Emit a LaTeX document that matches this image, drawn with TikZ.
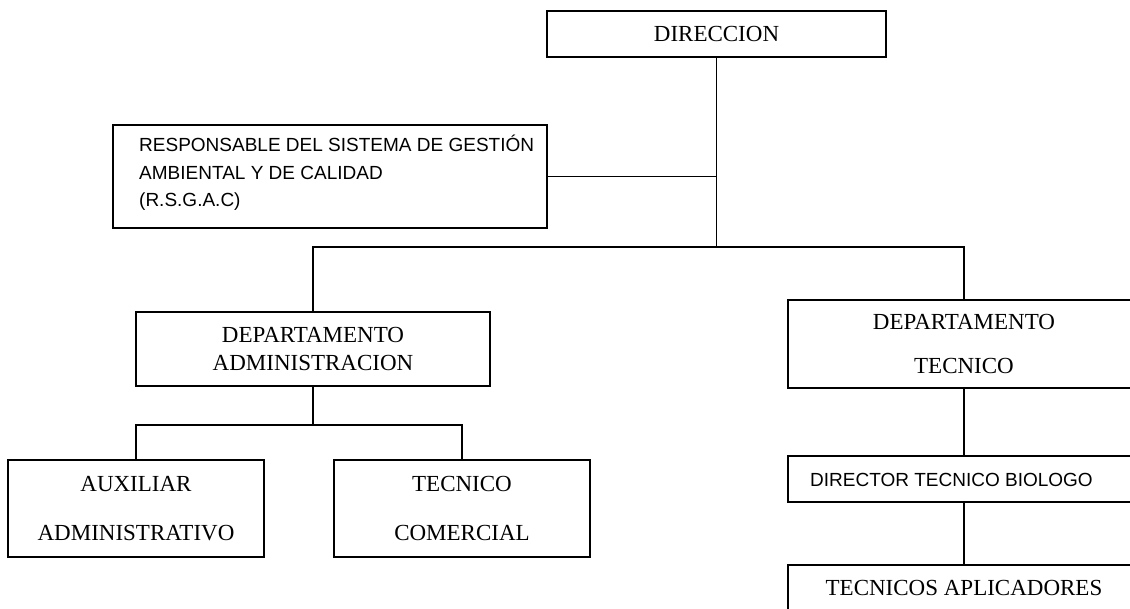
\documentclass[tikz,border=0pt]{standalone}
\usepackage{fontspec}
\setmainfont{Liberation Serif}
\newfontfamily\arialf{Liberation Sans}
\begin{document}
\begin{tikzpicture}[x=1pt,y=-1pt,
  box/.style={draw, line width=1.6pt, inner sep=0pt, align=center, font=\fontsize{23}{28}\selectfont},
  sanstext/.style={inner sep=0pt, anchor=west, align=left, font=\arialf\fontsize{19}{27.5}\selectfont},
  link/.style={line width=1.8pt}]
\clip (0,0) rectangle (1130,608);
\fill[white] (0,0) rectangle (1130,608);
% boxes
\node[box, minimum width=339pt, minimum height=46pt] (dir) at (716.5,34) {DIRECCION};
\node[box, minimum width=434pt, minimum height=103pt] (rsgac) at (330,176.5) {};
\node[sanstext] (rsgact) at (139,173) {RESPONSABLE DEL SISTEMA DE GESTIÓN\\AMBIENTAL Y DE CALIDAD\\(R.S.G.A.C)};
\node[box, minimum width=354pt, minimum height=74pt] (admin) at (313,349) {DEPARTAMENTO\\ADMINISTRACION};
\node[box, minimum width=352pt, minimum height=88pt, font=\fontsize{23}{44}\selectfont] (tec) at (964,344) {DEPARTAMENTO\\TECNICO};
\node[box, minimum width=256pt, minimum height=97pt, font=\fontsize{23}{49}\selectfont] (aux) at (136,508.5) {AUXILIAR\\ADMINISTRATIVO};
\node[box, minimum width=256pt, minimum height=97pt, font=\fontsize{23}{49}\selectfont] (com) at (462,508.5) {TECNICO\\COMERCIAL};
\node[box, minimum width=352pt, minimum height=46pt] (dtb) at (964,479) {};
\node[sanstext, font=\arialf\fontsize{19}{23}\selectfont] (dtbt) at (810,480) {DIRECTOR TECNICO BIOLOGO};
\node[box, minimum width=352pt, minimum height=46pt] (apl) at (964,588) {TECNICOS APLICADORES};
% connectors
\coordinate (bar) at (716.5,247);
\coordinate (subbar) at (313,425);
\draw[link] (dir.south) -- (bar);
\draw[link] (rsgac.east) -- (rsgac.east -| dir.south);
\draw[link] (admin.north) |- (bar) -| (tec.north);
\draw[link] (admin.south) -- (subbar);
\draw[link] (aux.north) |- (subbar) -| (com.north);
\draw[link] (tec.south) -- (dtb.north);
\draw[link] (dtb.south) -- (apl.north);
\end{tikzpicture}
\end{document}
